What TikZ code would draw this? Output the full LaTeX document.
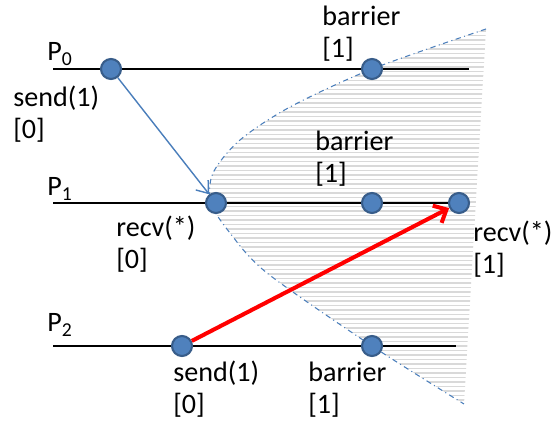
\documentclass[tikz,border=0pt]{standalone}
\usepackage{fontspec}
\setmainfont{Carlito}
\usetikzlibrary{arrows.meta,positioning,calc}

\definecolor{evfill}{HTML}{4F81BD}
\definecolor{evedge}{HTML}{385D8A}
\definecolor{msgblue}{HTML}{4A7EBB}
\definecolor{stripe}{HTML}{D9D9D9}

\tikzset{
  event/.style={circle,fill=evfill,draw=evedge,line width=1.2pt,minimum size=0.4cm,inner sep=0pt},
  timeline/.style={line width=1.15pt,black},
  lbl/.style={anchor=base west,inner sep=0pt,align=left,font=\fontsize{16}{18.7}\selectfont}
}

\begin{document}
\begin{tikzpicture}[x=0.02cm,y=-0.02cm,>=Latex]
  \useasboundingbox (0,0) rectangle (552,428);
  % shaded future of the barrier
  \begin{scope}
    \clip plot[smooth] coordinates {(486,29) (372,69) (290,107) (240,140) (213,173) (211,203)
      (230,233) (267,273) (372,346) (464,404)} -- cycle;
    \foreach \y in {31,35.5,...,405}
      \draw[stripe,line width=0.7pt] (150,\y) -- (500,\y);
  \end{scope}
  \draw[msgblue,line width=0.6pt,dash dot] plot[smooth] coordinates {(486,29) (372,69) (290,107)
    (240,140) (213,173) (211,203) (230,233) (267,273) (372,346) (464,404)};
  % process lines
  \coordinate (p0a) at (53,69);
  \coordinate (p0b) at (469,69);
  \coordinate (p1a) at (53,203);
  \coordinate (p1b) at (459,203);
  \coordinate (p2a) at (53,346);
  \coordinate (p2b) at (456,346);
  \draw[timeline] (p0a) -- (p0b);
  \draw[timeline] (p1a) -- (p1b);
  \draw[timeline] (p2a) -- (p2b);
  % events
  \node[event] (s0) at (111,69) {};
  \node[event] (b0) at (372,69) {};
  \node[event] (r1) at (216,203) {};
  \node[event] (b1) at (372,203) {};
  \node[event] (r2) at (459,203) {};
  \node[event] (s2) at (182,346) {};
  \node[event] (b2) at (372,346) {};
  % messages
  \draw[msgblue,line width=0.8pt,-{Straight Barb[length=6pt,width=9pt]}] (s0) -- (r1);
  \draw[red,line width=2.3pt,-{Straight Barb[length=6pt,width=11pt]}] (s2) -- (r2);
  % labels (base = baseline of the last line)
  \node[lbl] (n0) at (47,61) {P\textsubscript{0}};
  \node[lbl] (n1) at (47,196) {P\textsubscript{1}};
  \node[lbl] (n2) at (47,332) {P\textsubscript{2}};
  \node[lbl] (ls0) at (13,139) {send(1)\\{[0]}};
  \node[lbl] (lb0) at (322,58) {barrier\\{[1]}};
  \node[lbl] (lb1) at (315,183) {barrier\\{[1]}};
  \node[lbl] (lr1) at (116,269) {recv(*)\\{[0]}};
  \node[lbl] (lr2) at (473,274) {recv(*)\\{[1]}};
  \node[lbl] (ls2) at (173,414) {send(1)\\{[0]}};
  \node[lbl] (lb2) at (308,414) {barrier\\{[1]}};
\end{tikzpicture}
\end{document}
